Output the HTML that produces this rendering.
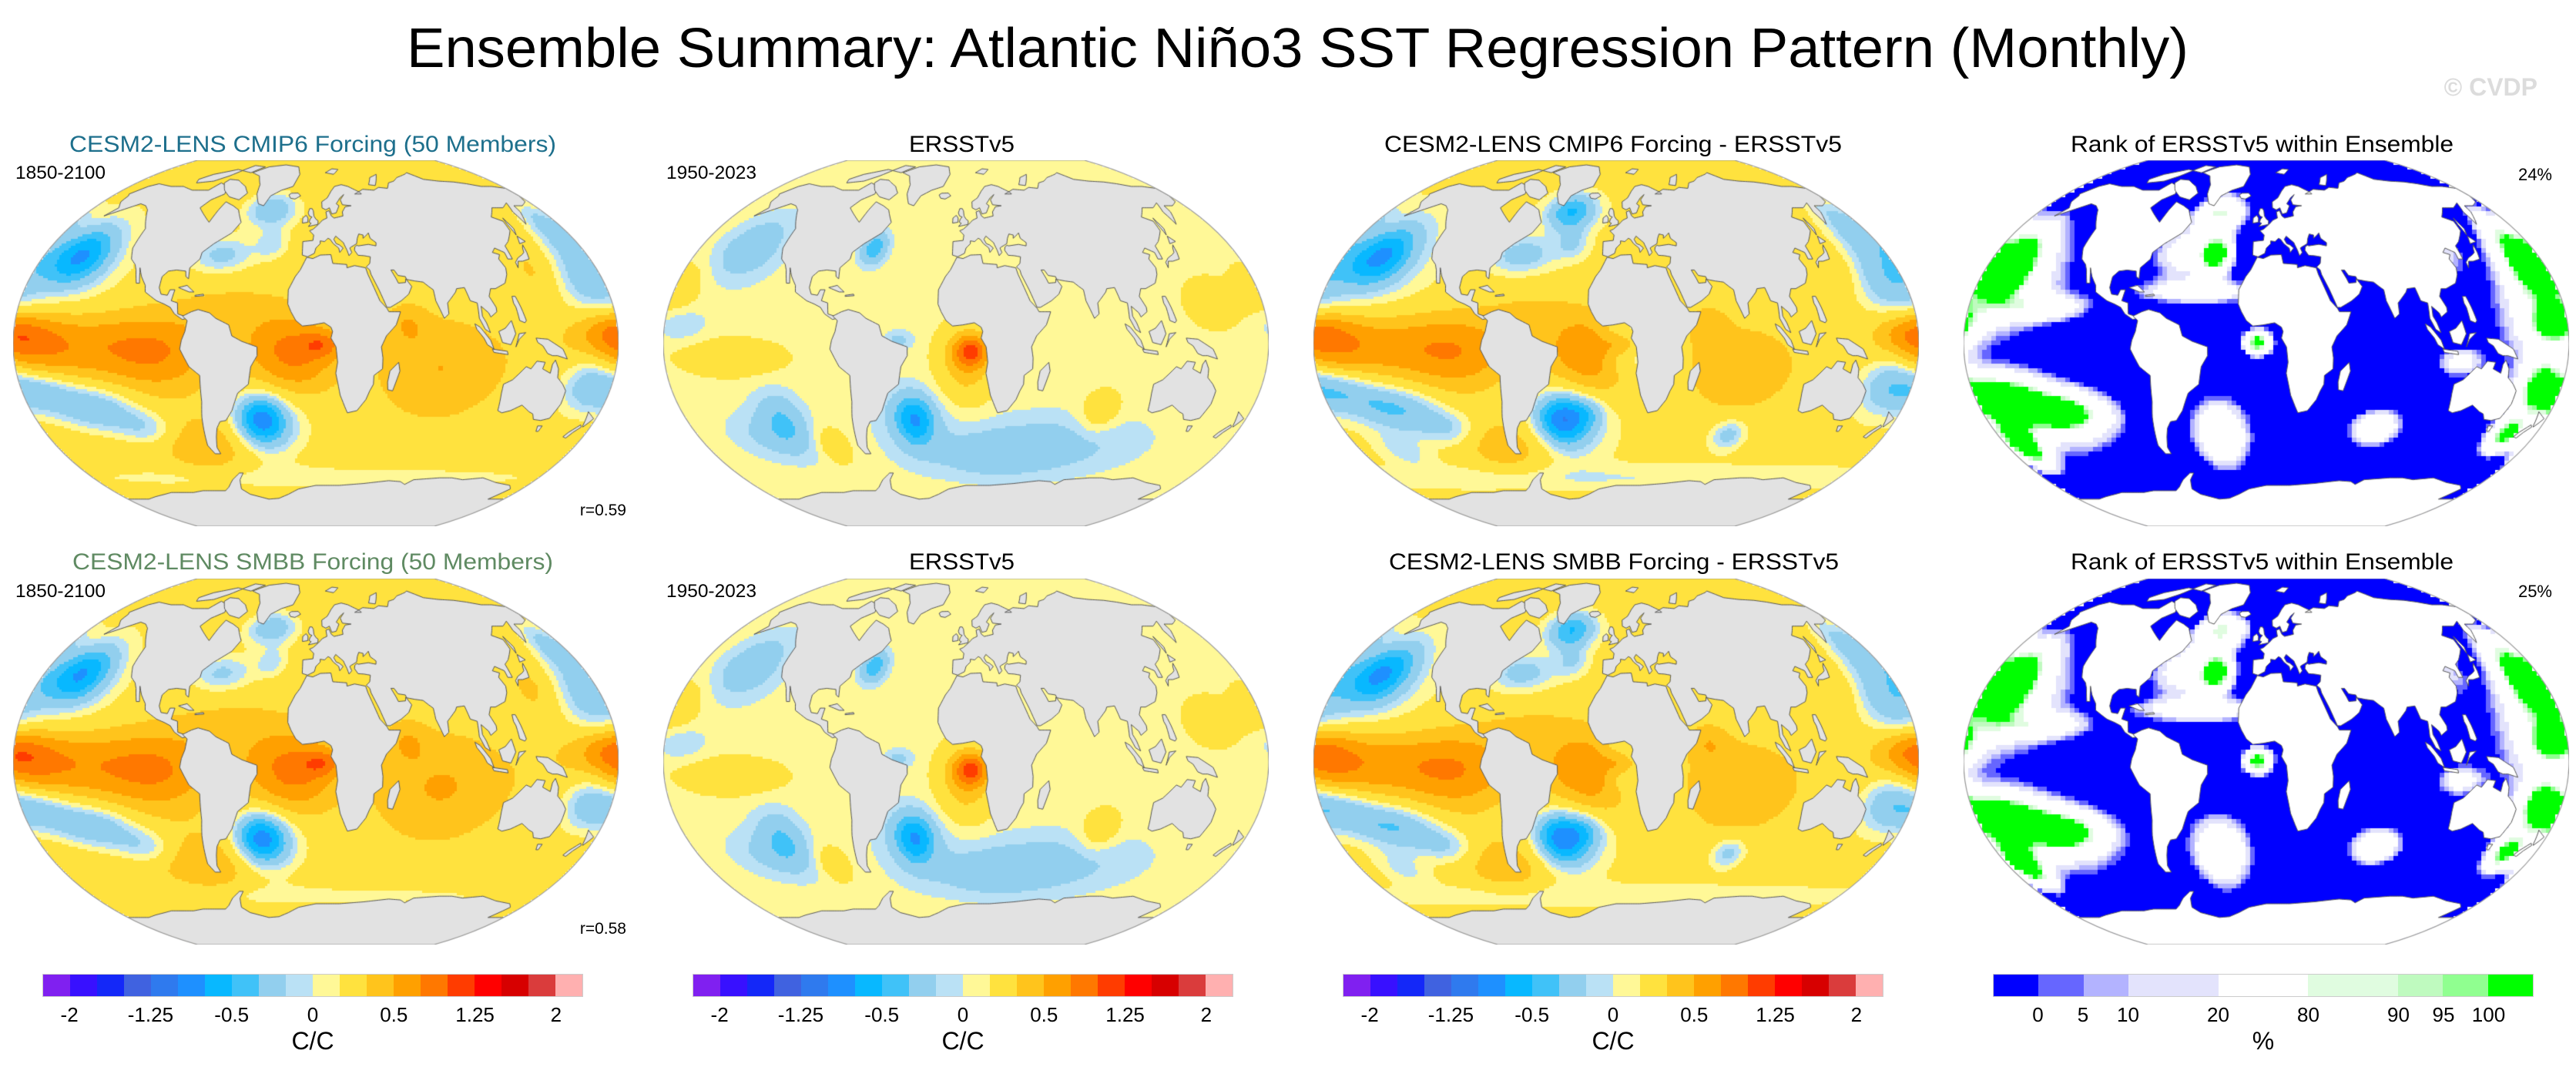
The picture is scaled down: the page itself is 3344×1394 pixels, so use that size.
<!DOCTYPE html>
<html><head><meta charset="utf-8">
<style>
html,body{margin:0;padding:0;background:#fff;}
#root{position:relative;width:3344px;height:1394px;overflow:hidden;background:#fff;font-family:"Liberation Sans",Arial,sans-serif;}
canvas{position:absolute;}
.cbar{position:absolute;display:flex;height:30px;border:1px solid #ccc;box-sizing:border-box;}
.cbar div{flex:1 1 0;height:100%;}
svg{position:absolute;left:0;top:0;}
</style></head>
<body>
<div id="root">
<canvas id="m0" width="786" height="475" style="left:17px;top:208px"></canvas>
<canvas id="m1" width="786" height="475" style="left:861px;top:208px"></canvas>
<canvas id="m2" width="786" height="475" style="left:1705px;top:208px"></canvas>
<canvas id="m3" width="786" height="475" style="left:2549px;top:208px"></canvas>
<canvas id="m4" width="786" height="475" style="left:17px;top:751px"></canvas>
<canvas id="m5" width="786" height="475" style="left:861px;top:751px"></canvas>
<canvas id="m6" width="786" height="475" style="left:1705px;top:751px"></canvas>
<canvas id="m7" width="786" height="475" style="left:2549px;top:751px"></canvas>

<div class="cbar" id="cb0" style="left:55px;top:1264px;width:702px"></div>
<div class="cbar" id="cb1" style="left:899px;top:1264px;width:702px"></div>
<div class="cbar" id="cb2" style="left:1743px;top:1264px;width:702px"></div>
<div class="cbar" id="cb3" style="left:2587px;top:1264px;width:702px"></div>

<svg width="3344" height="1394">
<text x="528" y="87" font-size="72" textLength="2313" lengthAdjust="spacingAndGlyphs" font-family="Liberation Sans, sans-serif">Ensemble Summary: Atlantic Niño3 SST Regression Pattern (Monthly)</text>
<text x="3294" y="124" font-size="32" font-weight="bold" text-anchor="end" fill="#dcdcdc" font-family="Liberation Sans, sans-serif">© CVDP</text>

<text x="90" y="197" font-size="30" fill="#1d6f8c" textLength="632" lengthAdjust="spacingAndGlyphs">CESM2-LENS CMIP6 Forcing (50 Members)</text>
<text x="1180" y="197" font-size="30" textLength="137" lengthAdjust="spacingAndGlyphs">ERSSTv5</text>
<text x="1797" y="197" font-size="30" textLength="594" lengthAdjust="spacingAndGlyphs">CESM2-LENS CMIP6 Forcing - ERSSTv5</text>
<text x="2688" y="197" font-size="30" textLength="497" lengthAdjust="spacingAndGlyphs">Rank of ERSSTv5 within Ensemble</text>

<text x="94" y="739" font-size="30" fill="#5f8a62" textLength="624" lengthAdjust="spacingAndGlyphs">CESM2-LENS SMBB Forcing (50 Members)</text>
<text x="1180" y="739" font-size="30" textLength="137" lengthAdjust="spacingAndGlyphs">ERSSTv5</text>
<text x="1803" y="739" font-size="30" textLength="584" lengthAdjust="spacingAndGlyphs">CESM2-LENS SMBB Forcing - ERSSTv5</text>
<text x="2688" y="739" font-size="30" textLength="497" lengthAdjust="spacingAndGlyphs">Rank of ERSSTv5 within Ensemble</text>

<text x="20" y="232" font-size="24" textLength="117" lengthAdjust="spacingAndGlyphs">1850-2100</text>
<text x="865" y="232" font-size="24" textLength="117" lengthAdjust="spacingAndGlyphs">1950-2023</text>
<text x="20" y="775" font-size="24" textLength="117" lengthAdjust="spacingAndGlyphs">1850-2100</text>
<text x="865" y="775" font-size="24" textLength="117" lengthAdjust="spacingAndGlyphs">1950-2023</text>
<text x="813" y="669" font-size="21" text-anchor="end">r=0.59</text>
<text x="813" y="1212" font-size="21" text-anchor="end">r=0.58</text>
<text x="3313" y="234" font-size="22" text-anchor="end">24%</text>
<text x="3313" y="775" font-size="22" text-anchor="end">25%</text>
<g id="cblabels"></g>
</svg>
</div>
<script>
// ---------- data ----------
const sstLevels = [-2,-1.75,-1.5,-1.25,-1,-0.75,-0.5,-0.3,-0.1,0,0.1,0.3,0.5,0.75,1,1.25,1.5,1.75,2];
const sstColors = ["#8020F0","#3810FF","#1428F8","#4062E0","#2F7AEE","#1E90FF","#08B8FF","#40C2F8","#92CFEE","#BAE1F5","#FFF897","#FFE23E","#FFC41C","#FFA000","#FF7800","#FF3C00","#FF0000","#D70000","#DA3C3C","#FFB0B0"];
const sstTickLabels = ["-2","-1.25","-0.5","0","0.5","1.25","2"];
const sstTickIdx = [1,4,7,10,13,16,19];
const rankLevels = [0,5,10,20,80,90,95,100];
const rankColors = ["#0000FF","#6666FF","#B3B3FF","#E3E3FC","#FFFFFF","#E0FCE0","#BFFABF","#90FF90","#00FF00"];
const rankBoxWeights = [1,1,1,2,2,2,1,1,1];
const rankTickLabels = ["0","5","10","20","80","90","95","100"];

// field blobs: [lon, lat, sigmaLon, sigmaLat, amplitude]
const modelBase = 0.2;
const modelBlobs = [
 [-130,-5,45,10,0.45],[-172,-3,18,8,0.35],[-95,-10,20,12,0.3],
 [-15,-5,18,10,0.5],[4,-4,8,4,0.45],[-10,-15,15,10,0.2],[-50,12,25,8,0.15],
 [75,-15,25,15,0.3],[55,5,8,6,0.25],[-80,-50,20,9,0.3],
 [-155,36,12,8,-0.7],[-155,36,25,16,-0.3],
 [-172,-25,16,7,-0.4],[-140,-33,18,7,-0.45],[-110,-42,15,6,-0.3],
 [-35,-38,10,7,-0.85],[-30,-42,18,10,-0.3],
 [-35,58,15,6,-0.45],[-62,37,15,6,-0.35],[-30,42,8,5,-0.25],
 [170,25,15,12,-0.35],[165,-20,12,10,-0.35],[170,50,10,8,-0.3],
 [178,2,14,6,0.35],[0,-66,180,5,-0.15],[140,30,10,8,0.15]
];
const obsBase = 0.05;
const obsBlobs = [
 [3,-7,7,5,0.8],[0,-13,12,12,0.35],
 [-33,-38,8,7,-0.65],[-35,-40,16,12,-0.2],
 [-145,40,15,10,-0.3],[-118,-38,10,9,-0.3],[-130,-46,18,8,-0.2],
 [60,-50,40,10,-0.22],[15,-55,30,8,-0.2],
 [-140,-10,22,6,0.2],[-178,22,10,8,0.2],[150,15,12,8,0.18],[85,-35,9,7,0.22],[-92,-50,8,6,0.2],
 [-62,40,6,5,-0.5],[-40,-2,6,3,-0.2],[-170,5,10,5,-0.15]
];
const diffExtraBlobs = [
 [4,-5,12,8,-0.55],[-35,55,10,6,-0.25],[75,-45,8,5,-0.35],[-20,-35,8,5,-0.3],[-150,-52,12,6,-0.2]
];
const rankBase = -30;
const rankBlobs = [
 [-165,32,12,12,160],[-150,25,25,20,50],[-135,13,20,4,60],
 [-165,-28,18,7,150],[-130,-35,18,6,120],[-168,-50,9,8,150],[-140,-38,35,14,60],
 [-35,57,14,6,110],[-33,37,7,6,140],[-52,38,18,9,70],[-40,20,30,4,70],
 [-5,-3,6,4,150],[-30,-45,14,12,90],[72,-42,12,6,90],
 [167,35,10,14,130],[172,5,10,6,120],[167,-22,9,8,120],[160,10,22,25,50],
 [160,-45,8,6,130],[115,-12,10,5,60],[120,40,8,10,40]
];

// coarse coastlines (lon, lat)
const land = [
 [[-168,66],[-162,70],[-156,71.5],[-140,70],[-128,70],[-115,68],[-100,68],[-95,72],[-85,70],[-82,66],[-90,63],[-94,59],[-88,56],[-80,52],[-78,58],[-76,62],[-68,60],[-62,58],[-56,52],[-60,47],[-66,44],[-70,42],[-76,38],[-76,35],[-81,31],[-80,26],[-82,27],[-83,29.5],[-89,30],[-94,29.5],[-97,27],[-97,22],[-95,19],[-91,18.5],[-90,21],[-87,21],[-88,16],[-84,15],[-83,10],[-79,9],[-77,8],[-80,7.5],[-85,10],[-88,13],[-92,14.5],[-97,16],[-105,20],[-106,23],[-110,27],[-113,31],[-112,29],[-110,24],[-112,24],[-115,30],[-117,32.5],[-121,35],[-124,40],[-124,46],[-124,49],[-130,54],[-135,58],[-140,60],[-146,61],[-152,59],[-158,57],[-164,55],[-160,59],[-165,62],[-166,65]],
 [[-73,78],[-60,82],[-40,83.5],[-22,82],[-18,77],[-22,70],[-32,68],[-40,65],[-43,60],[-48,61],[-53,66],[-55,71],[-62,76],[-70,77.5]],
 [[-90,74],[-80,73.5],[-68,70],[-62,66.5],[-66,63],[-76,64.5],[-85,68],[-92,72]],
 [[-120,72],[-105,73],[-95,76],[-80,83],[-65,82],[-75,78],[-95,80],[-115,77],[-123,74]],
 [[-80,9],[-75,11],[-71,12],[-64,10.5],[-60,8],[-52,5],[-50,0],[-44,-2.5],[-35,-5],[-35,-9],[-39,-14],[-41,-22],[-48,-26],[-53,-34],[-58,-38.5],[-62,-39],[-65,-42],[-67,-46],[-69,-51],[-68,-54],[-72,-54],[-75,-50],[-74,-43],[-73,-37],[-71,-30],[-70,-18],[-76,-14],[-81,-6],[-80,-2],[-78,2],[-77,7]],
 [[-17,21],[-17,14.5],[-15,11],[-12,7],[-8,4.5],[-2,5],[5,6],[9,4],[10,2],[9,-1],[12,-5],[13,-12],[12,-17],[15,-27],[18,-32],[20,-35],[26,-34],[31,-29],[33,-25],[35,-22],[35,-18],[40,-15],[40,-10],[39,-5],[42,0],[48,5],[51,11],[44,11],[43,12.5],[39,16],[35,24],[33,28],[32,31],[25,32],[20,31],[20,32.5],[11,33],[10,37],[3,36.8],[-2,35.2],[-6,35.8],[-10,30],[-13,27]],
 [[49.5,-12],[50.5,-16],[47,-25],[44,-24.5],[43.5,-21],[44.5,-16],[47,-14]],
 [[-9,36.8],[-9,43],[-2,43.5],[-1.5,46],[-4.5,48],[-2,48.7],[2,51],[5,53],[8.5,54],[8,57],[10.5,57.6],[12,55],[14,54],[21,55],[21,57],[24,59.5],[29,60],[22,60.5],[21,63],[25,65.7],[21,64],[17,61],[19,60],[16,56.5],[12.5,56],[11,59],[8,58],[5,59],[5,62],[10,64],[14,67.5],[18,70],[25,71],[31,70],[40,67],[41,66],[35,66],[44,68.5],[54,68],[60,69.5],[68,69],[73,72],[80,73],[87,75],[100,77],[105,78],[113,74],[126,73],[140,72.5],[150,71.5],[160,70],[170,70],[180,69],[180,65],[177,62],[170,60],[163,60],[162,57],[156,51],[156,57],[160,61.5],[152,59],[143,59],[135,54.5],[141,52.5],[140,48],[133,43],[129,41],[129,35],[126,35],[126,38],[121,40],[118,38],[122,37],[120,35],[122,31],[121,28],[118,24],[111,21.5],[108,21.5],[106,18],[109,13],[109,11],[105,8.6],[104,10.5],[100,13.5],[100,9],[102,6],[104,1.5],[101,3],[98,8],[98,15],[94,16],[92,22],[87,21.5],[86,20],[80,15],[80,10],[77,8],[73,16],[72.5,21],[70,22.5],[67,24.5],[62,25],[57,25.7],[56.5,27],[52,27.5],[50,30],[48,30],[50.5,26],[51.5,24],[56,24.3],[56.5,26],[59.5,22.5],[57,19],[52,16],[45,13],[43,13],[39,21],[35,28],[34.5,30],[32.5,31.4],[35,33],[36,36],[32,36.5],[28,36.7],[26,39],[26.5,40.5],[28,41.3],[29,41],[31,41.2],[36,41.7],[41,41],[41.5,42.5],[38,44.5],[37.5,47],[35,45.5],[33,44.5],[33.5,46],[30.5,46.5],[29,44.5],[28,42],[24,40.5],[23,40],[24,38],[22,36.5],[21,39],[19.5,41.5],[19,42.5],[14,45.5],[12.5,44],[14,42],[16,41.5],[18.5,40],[16,38],[15.5,40],[12,42],[10,44],[8.5,44.5],[6,43],[3,43.3],[3,42],[0,40],[-1,37.6],[-5.5,36]],
 [[-5.5,50],[1.5,51],[1.7,52.7],[0,53.5],[-1.5,55],[-2,57.5],[-3,58.6],[-5,58.6],[-6,56.5],[-5,55],[-3,54.5],[-4.5,53.3],[-5,52],[-3.5,51.5]],
 [[-6,52],[-6,54],[-7.5,55.3],[-10,54],[-10,51.6]],
 [[-24,65.5],[-22,66.4],[-16,66.5],[-13.5,65],[-18,63.4],[-22,63.8]],
 [[130,31],[132,34],[135,34],[140,35],[141,38],[141.5,41.5],[140,40],[139,38],[137,37],[133,35.5],[130,33.5]],
 [[140,42],[145,43],[142,45.5]],
 [[95,5.5],[98,4],[104,-2],[106,-6],[102,-4],[100,-1],[96,3]],
 [[109,2],[111,-3],[116,-4],[119,1],[117,7],[113,3.5]],
 [[105,-6],[114,-7],[114.5,-8.5],[106,-7.5]],
 [[119,-5],[121,1],[125,1.5],[121,-1.5]],
 [[131,-1],[138,-1.5],[147,-6],[150,-10.5],[144,-9],[141,-9],[138,-8],[135,-4.5],[132,-3]],
 [[120,18],[122,18],[124,13],[126,7],[125,6],[122,7],[121,13],[120,15]],
 [[114,-22],[114,-26],[115,-34],[118,-35],[123,-34],[129,-31.5],[135,-34.5],[138,-35.5],[140,-38],[145,-38.5],[150,-37.5],[153,-31],[153,-25],[150,-22],[146,-19],[145.5,-15],[143,-11],[141.5,-13],[141,-17],[136,-15],[137,-12],[132,-11.5],[129,-15],[126,-14],[122,-17.5],[119,-20]],
 [[145,-41],[148,-41],[147.5,-43.5],[146,-43.5]],
 [[172.6,-34.5],[178.5,-37.7],[177,-39.5],[175,-41.5],[174.5,-41],[174,-39],[173,-35.5]],
 [[172.7,-40.5],[174,-41.5],[171,-44],[169,-46.6],[166.5,-46],[168,-44]],
 [[-85,22],[-80,23],[-75,20],[-78,20]],
 [[-74,18.5],[-69,19],[-68.5,18.3],[-74,18]],
 [[11,78],[20,80.5],[27,80],[20,77]],
 [[52,71],[58,75],[68,77],[58,70.5]],
 [[142,46],[144,49],[143,54],[142,51]]
];
// Antarctic coastline, west to east
const antarcticCoast = [[-180,-78],[-160,-78],[-150,-76.5],[-130,-74],[-110,-74],[-100,-73],[-80,-73],[-75,-71],[-68,-67],[-60,-63.5],[-57,-63.5],[-62,-67],[-65,-72],[-60,-75],[-45,-78],[-35,-77.5],[-25,-75],[-15,-72],[0,-70],[20,-70],[40,-69],[60,-67.5],[70,-68],[75,-69.5],[80,-67],[90,-66.5],[100,-66],[110,-66],[120,-67],[135,-66],[150,-68.5],[165,-70],[170,-72],[165,-78],[180,-78]];

// ---------- projection ----------
const W=786,H=475,CX=W/2,CY=H/2,A=W/2,B=258,YCLIP=237.5,EQ=228,S=230;
const robY=[0,.062,.124,.186,.248,.310,.372,.434,.4958,.5571,.6176,.6769,.7346,.7903,.8435,.8936,.9394,.9761,1];
function latToV(lat){
  const a=Math.min(90,Math.abs(lat))/5, i=Math.min(17,Math.floor(a)), t=a-i;
  return (lat<0?-1:1)*(robY[i]+(robY[i+1]-robY[i])*t);
}
function vToLat(v){
  const av=Math.min(1,Math.abs(v));
  let i=0; while(i<17 && robY[i+1]<av) i++;
  const t=(av-robY[i])/(robY[i+1]-robY[i]);
  return (v<0?-1:1)*Math.min(90,(i+t)*5);
}
function xEdge(py){ const d=py-CY; return A*Math.sqrt(Math.max(0,1-(d/B)*(d/B))); }
function proj(lon,lat){
  const py=Math.min(CY+YCLIP,Math.max(CY-YCLIP,EQ-S*latToV(lat)));
  return [CX+lon/180*xEdge(py), py];
}
function inv(px,py){
  if(Math.abs(py-CY)>YCLIP) return null;
  const xe=xEdge(py); const dx=px-CX; if(Math.abs(dx)>xe) return null;
  return [dx/xe*180, vToLat((EQ-py)/S)];
}
function field(base,blobs,lon,lat){
  let v=base;
  for(const b of blobs){
    const dl=((lon-b[0])%360+540)%360-180;
    const ex=dl/b[2], ey=(lat-b[1])/b[3];
    v+=b[4]*Math.exp(-0.5*(ex*ex+ey*ey));
  }
  return v;
}
function colorFor(v,levels,colors){
  let i=0; while(i<levels.length && v>=levels[i]) i++;
  return colors[i];
}
function clipShape(ctx){
  ctx.beginPath(); ctx.ellipse(CX,CY,A,B,0,0,Math.PI*2);
  ctx.clip();
  ctx.beginPath(); ctx.rect(0,CY-YCLIP,W,2*YCLIP); ctx.clip();
}
function tracePoly(ctx,poly,closed){
  const n0=closed?poly.length:poly.length-1;
  let first=true;
  for(let i=0;i<n0;i++){
    const a=poly[i], b=poly[(i+1)%poly.length];
    const n=Math.max(1,Math.ceil(Math.max(Math.abs(b[0]-a[0]),Math.abs(b[1]-a[1]))/2));
    for(let k=0;k<=n;k++){
      const t=k/n; const q=proj(a[0]+(b[0]-a[0])*t, a[1]+(b[1]-a[1])*t);
      if(first){ctx.moveTo(q[0],q[1]); first=false;} else ctx.lineTo(q[0],q[1]);
    }
  }
}
function drawMap(id,base,blobs,levels,colors,landColor,step){
  const c=document.getElementById(id), ctx=c.getContext('2d');
  ctx.save(); clipShape(ctx);
  for(let py=0;py<H;py+=step) for(let px=0;px<W;px+=step){
    const ll=inv(px+step/2,py+step/2); if(!ll) continue;
    ctx.fillStyle=colorFor(field(base,blobs,ll[0],ll[1]),levels,colors);
    ctx.fillRect(px,py,step,step);
  }
  ctx.fillStyle=landColor; ctx.strokeStyle='#555'; ctx.lineWidth=1;
  for(const p of land){ ctx.beginPath(); tracePoly(ctx,p,true); ctx.closePath(); ctx.fill(); ctx.stroke(); }
  // Antarctica: fill everything below its coastline
  ctx.beginPath(); tracePoly(ctx,antarcticCoast,false);
  ctx.lineTo(W+5,H+5); ctx.lineTo(-5,H+5); ctx.closePath(); ctx.fill();
  ctx.beginPath(); tracePoly(ctx,antarcticCoast,false); ctx.stroke();
  ctx.restore();
  ctx.save(); ctx.strokeStyle='#999'; ctx.lineWidth=1.2;
  const dx=xEdge(CY-YCLIP);
  const a0=Math.asin(YCLIP/B);
  ctx.beginPath(); ctx.ellipse(CX,CY,A,B,0,-a0,a0); ctx.stroke();
  ctx.beginPath(); ctx.ellipse(CX,CY,A,B,0,Math.PI-a0,Math.PI+a0); ctx.stroke();
  ctx.beginPath(); ctx.moveTo(CX-dx,CY-YCLIP); ctx.lineTo(CX+dx,CY-YCLIP);
  ctx.moveTo(CX-dx,CY+YCLIP); ctx.lineTo(CX+dx,CY+YCLIP); ctx.stroke();
  ctx.restore();
}
const diffBlobs = modelBlobs.concat(diffExtraBlobs);
drawMap('m0',modelBase,modelBlobs,sstLevels,sstColors,'#e2e2e2',3);
drawMap('m1',obsBase,obsBlobs,sstLevels,sstColors,'#e2e2e2',3);
drawMap('m2',modelBase-0.05,diffBlobs,sstLevels,sstColors,'#e2e2e2',3);
drawMap('m3',rankBase,rankBlobs,rankLevels,rankColors,'#ffffff',6);
drawMap('m4',modelBase+0.02,modelBlobs,sstLevels,sstColors,'#e2e2e2',3);
drawMap('m5',obsBase,obsBlobs,sstLevels,sstColors,'#e2e2e2',3);
drawMap('m6',modelBase-0.03,diffBlobs,sstLevels,sstColors,'#e2e2e2',3);
drawMap('m7',rankBase+2,rankBlobs,rankLevels,rankColors,'#ffffff',6);

// ---------- colorbars ----------
const NS='http://www.w3.org/2000/svg';
const g=document.getElementById('cblabels');
function addText(x,y,s,size,name){
  const t=document.createElementNS(NS,'text');
  t.setAttribute('x',x); t.setAttribute('y',y); t.setAttribute('font-size',size);
  t.setAttribute('text-anchor','middle'); t.textContent=s;
  
  
  g.appendChild(t);
}
const cbLeft=[55,899,1743,2587], cbW=702;
for(let k=0;k<3;k++){
  const cb=document.getElementById('cb'+k);
  sstColors.forEach((col,i)=>{
    const d=document.createElement('div'); d.style.background=col;
    
    
    cb.appendChild(d);
  });
  sstTickLabels.forEach((s,i)=>{
    addText(cbLeft[k]+cbW*sstTickIdx[i]/sstColors.length,1326,s,26,'colorbar-tick-label');
  });
  addText(cbLeft[k]+cbW/2,1362,'C/C',32,'colorbar-units');
}
{
  const cb=document.getElementById('cb3');
  const tot=rankBoxWeights.reduce((a,b)=>a+b,0);
  rankColors.forEach((col,i)=>{
    const d=document.createElement('div'); d.style.background=col; d.style.flex=rankBoxWeights[i]+' 1 0';
    
    
    cb.appendChild(d);
  });
  let acc=0;
  rankTickLabels.forEach((s,i)=>{
    acc+=rankBoxWeights[i];
    addText(cbLeft[3]+cbW*acc/tot,1326,s,26,'rank-tick-label');
  });
  addText(cbLeft[3]+cbW/2,1362,'%',32,'rank-colorbar-units');
}
</script>
</body></html>
